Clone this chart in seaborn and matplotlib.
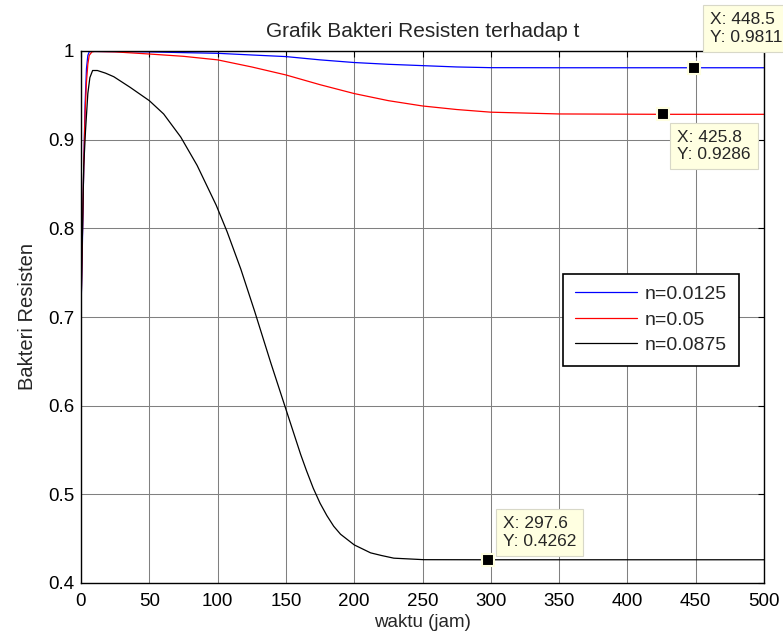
import numpy as np
import pandas as pd
import matplotlib
matplotlib.use('Agg')
import matplotlib.pyplot as plt
import seaborn as sns

# --- data ---
t_blue = [0, 1, 2, 3, 4, 5, 6, 8, 25, 50, 80, 100, 125, 150, 175, 200, 225, 250, 275, 300, 350, 400, 448.5, 500]
y_blue = [0.705, 0.78, 0.87, 0.94, 0.98, 0.995, 0.999, 0.9995, 0.9993, 0.999, 0.998, 0.9974, 0.9955, 0.9937,
          0.990, 0.987, 0.985, 0.9835, 0.982, 0.9812, 0.9811, 0.9811, 0.9811, 0.9811]

t_red = [0, 1, 2, 3, 4, 5, 6, 8, 10, 25, 50, 75, 100, 125, 150, 175, 200, 225, 250, 275, 300, 350, 425.8, 500]
y_red = [0.705, 0.79, 0.87, 0.93, 0.965, 0.985, 0.995, 0.999, 0.9995, 0.999, 0.9966, 0.994, 0.990, 0.982,
         0.973, 0.962, 0.952, 0.944, 0.938, 0.934, 0.931, 0.929, 0.9286, 0.9286]

t_black = [0, 1, 2, 3.3, 5, 6.5, 8.5, 12, 18, 24, 36, 50, 60.5, 73, 85, 99, 107, 117, 127, 139, 150,
           160.8, 165, 170, 175, 180, 185, 190, 200, 212, 220, 229, 251, 297.6, 500]
y_black = [0.705, 0.79, 0.87, 0.91, 0.952, 0.970, 0.978, 0.978, 0.975, 0.971, 0.959, 0.944, 0.929, 0.903,
           0.871, 0.826, 0.796, 0.754, 0.707, 0.648, 0.596, 0.545, 0.527, 0.507, 0.490, 0.476, 0.464,
           0.455, 0.443, 0.434, 0.431, 0.428, 0.4263, 0.4262, 0.4262]

labels = ['n=0.0125', 'n=0.05', 'n=0.0875']
colors = ['#0000FF', '#FF0000', '#000000']

# data tips
tip_x = [448.5, 425.8, 297.6]
tip_y = [0.9811, 0.9286, 0.4262]

x_ticks = [0, 50, 100, 150, 200, 250, 300, 350, 400, 450, 500]
y_ticks = [0.4, 0.5, 0.6, 0.7, 0.8, 0.9, 1.0]
y_ticklabels = ['0.4', '0.5', '0.6', '0.7', '0.8', '0.9', '1']

df = pd.concat([
    pd.DataFrame({'t': t_blue, 'val': y_blue, 'n': labels[0]}),
    pd.DataFrame({'t': t_red, 'val': y_red, 'n': labels[1]}),
    pd.DataFrame({'t': t_black, 'val': y_black, 'n': labels[2]}),
], ignore_index=True)

sns.set_style('white')
plt.rcParams['font.family'] = ['Liberation Sans', 'DejaVu Sans']

fig = plt.figure(figsize=(7.83, 6.39), dpi=100)
ax = fig.add_axes([81 / 783, 1 - 583 / 639, 683 / 783, 532 / 639])

sns.lineplot(data=df, x='t', y='val', hue='n', palette=dict(zip(labels, colors)),
             sort=False, estimator=None, linewidth=0.9, ax=ax)

ax.set_xlim(0, 500)
ax.set_ylim(0.4, 1.0)
ax.set_xticks(x_ticks)
ax.set_yticks(y_ticks)
ax.set_yticklabels(y_ticklabels)
ax.grid(True, color='#808080', linewidth=0.75)
ax.tick_params(direction='in', top=True, right=True, length=4, width=0.8,
               labelsize=13.5, colors='black')
ax.tick_params(axis='x', pad=7)
ax.tick_params(axis='y', pad=5)
for sp in ax.spines.values():
    sp.set_color('black')
    sp.set_linewidth(1.0)

ax.set_title('Grafik Bakteri Resisten terhadap t', fontsize=15, pad=10)
ax.set_xlabel('waktu (jam)', fontsize=13.5, labelpad=3)
ax.set_ylabel('Bakteri Resisten', fontsize=14.5, labelpad=8)

leg = ax.legend(loc='upper left', bbox_to_anchor=(0.706, 0.581), borderaxespad=0,
                fontsize=14, handlelength=3.2, handletextpad=0.4, borderpad=0.6,
                labelspacing=0.4, fancybox=False, framealpha=1, edgecolor='black')
leg.get_frame().set_linewidth(1.2)
for line in leg.get_lines():
    line.set_linewidth(0.9)

# data tip markers
ax.plot(tip_x, tip_y, 's', ms=9, mfc='black', mec='#FFFFE1', mew=1.5, zorder=5, clip_on=False)

box = dict(boxstyle='square,pad=0.4', fc='#FFFFE1', ec='#D8D8C8', lw=0.8)
tip_offsets = [(11.5, 16.5, 'bottom'), (10.5, -11, 'top'), (11, 8, 'bottom')]
for x, y, (dx, dy, va) in zip(tip_x, tip_y, tip_offsets):
    ax.annotate(f'X: {x}\nY: {y}', xy=(x, y), xytext=(dx, dy), textcoords='offset points',
                ha='left', va=va, fontsize=12.5, linespacing=1.2, bbox=box,
                annotation_clip=False, zorder=6)

fig.savefig('out.png', dpi=100)
